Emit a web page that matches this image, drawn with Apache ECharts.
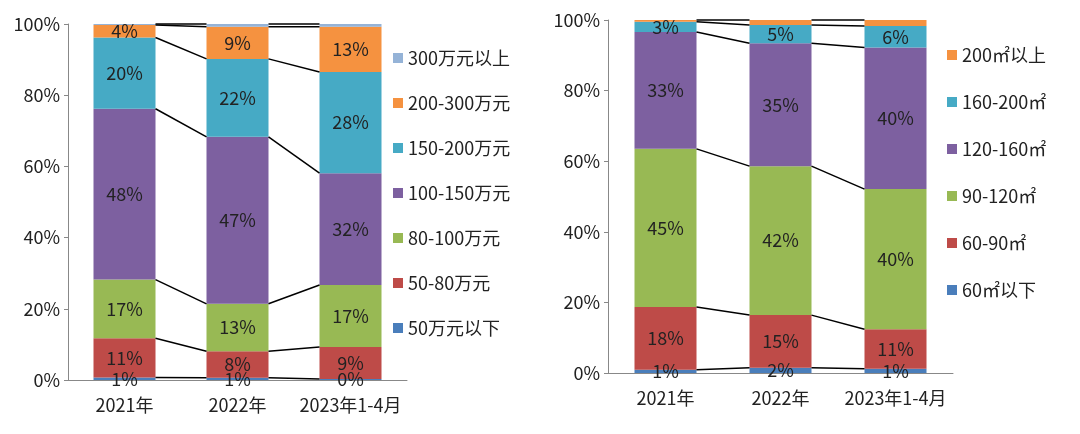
<!DOCTYPE html>
<html><head><meta charset="utf-8">
<script src="https://cdn.jsdelivr.net/npm/echarts@6/dist/echarts.min.js"></script>
<style>html,body{margin:0;padding:0;background:#fff}#c{width:1080px;height:434px}</style>
</head><body><div id="c"></div>
<script>
const categories = ['2021年','2022年','2023年1-4月'];
// Left chart: price bands (bottom to top)
const leftNames = ['50万元以下','50-80万元','80-100万元','100-150万元','150-200万元','200-300万元','300万元以上'];
const leftValues = [
  [0.7, 0.6, 0.3],
  [11.0, 7.5, 9.0],
  [16.5, 13.3, 17.4],
  [48.0, 46.9, 31.4],
  [20.0, 21.9, 28.4],
  [3.5, 9.0, 12.7],
  [0.3, 0.8, 0.8]
];
const leftLabels = [
  ['1%','1%','0%'],['11%','8%','9%'],['17%','13%','17%'],['48%','47%','32%'],['20%','22%','28%'],['4%','9%','13%'],null
];
// Right chart: area bands (bottom to top)
const rightNames = ['60㎡以下','60-90㎡','90-120㎡','120-160㎡','160-200㎡','200㎡以上'];
const rightValues = [
  [0.9, 1.5, 1.2],
  [17.8, 14.9, 11.2],
  [44.8, 42.2, 39.7],
  [33.1, 34.8, 40.1],
  [2.9, 5.2, 6.1],
  [0.5, 1.4, 1.7]
];
const rightLabels = [
  ['1%','2%','1%'],['18%','15%','11%'],['45%','42%','40%'],['33%','35%','40%'],['3%','5%','6%'],null
];
const yTicks = [0,20,40,60,80,100];
const colors7 = ['#4A7EBB','#BE4B48','#98B954','#7D60A0','#46AAC5','#F59240','#95B3D7'];
const colors6 = ['#4A7EBB','#BE4B48','#98B954','#7D60A0','#46AAC5','#F59240'];
const FONT = 'Noto Sans CJK SC';
const BW = 62;

function cum(vals){
  return categories.map((_,i)=>{let s=0;const out=[];vals.forEach(v=>{s+=v[i];out.push(s);});return out;});
}
function connector(gi, vals){
  const c = cum(vals);
  return {
    type:'custom', xAxisIndex:gi, yAxisIndex:gi, silent:true, z:5,
    data:[[0],[1]],
    renderItem:function(params, api){
      const i = api.value(0);
      const children = c[i].map((_,k)=>{
        const p1 = api.coord([i, c[i][k]]);
        const p2 = api.coord([i+1, c[i+1][k]]);
        return {type:'line', shape:{x1:p1[0]+BW/2,y1:p1[1],x2:p2[0]-BW/2,y2:p2[1]},
          style:{stroke:'#000',lineWidth:1.5}};
      });
      return {type:'group', children};
    }
  };
}
function bars(gi, names, vals, labels, colors){
  return names.map((n,k)=>({
    name:n, type:'bar', stack:'s'+gi, xAxisIndex:gi, yAxisIndex:gi, barWidth:BW,
    itemStyle:{color:colors[k]},
    data: vals[k].map((v,i)=>({value:v, label: labels[k] ? {show:true, formatter:labels[k][i]} : {show:false}})),
    label:{show:!!labels[k], position:'inside', color:'#222', fontSize:18, fontFamily:FONT}
  }));
}
const yAxisBase = {type:'value', min:0, max:100, interval:20,
  axisLine:{show:true, lineStyle:{color:'#888'}}, axisTick:{show:true, length:4, lineStyle:{color:'#888'}},
  splitLine:{show:false},
  axisLabel:{formatter:v=>v+'%', fontSize:18, color:'#222', fontFamily:FONT, margin:8}};
const xAxisBase = {type:'category', data:categories,
  axisLine:{lineStyle:{color:'#888'}}, axisTick:{show:false},
  axisLabel:{interval:0, fontSize:18, color:'#222', fontFamily:FONT, margin:16}};
const legendBase = {orient:'vertical', itemWidth:10, itemHeight:10, icon:'rect', itemGap:28,
  textStyle:{fontSize:18, color:'#222', fontFamily:FONT}, selectedMode:false};

const chart = echarts.init(document.getElementById('c'));
chart.setOption({
  animation:false,
  grid:[
    {left:68, top:24, width:339, height:356},
    {left:608, top:20, width:345, height:353}
  ],
  xAxis:[Object.assign({gridIndex:0}, xAxisBase), Object.assign({gridIndex:1}, xAxisBase)],
  yAxis:[Object.assign({gridIndex:0}, yAxisBase), Object.assign({gridIndex:1}, yAxisBase)],
  legend:[
    Object.assign({}, legendBase, {left:388, top:44, itemGap:27, data:leftNames.slice().reverse()}),
    Object.assign({}, legendBase, {left:942, top:41, itemGap:29, data:rightNames.slice().reverse()})
  ],
  series:[].concat(
    bars(0, leftNames, leftValues, leftLabels, colors7),
    bars(1, rightNames, rightValues, rightLabels, colors6),
    [connector(0, leftValues), connector(1, rightValues)]
  )
});
</script></body></html>
